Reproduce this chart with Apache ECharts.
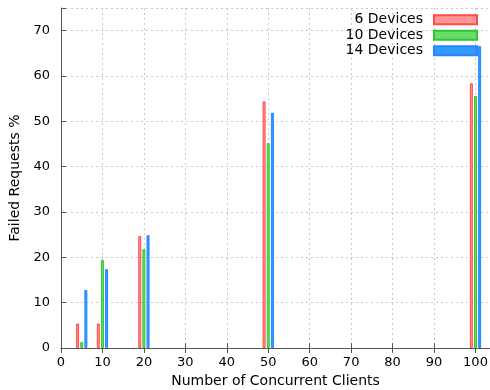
<!DOCTYPE html>
<html>
<head>
<meta charset="utf-8">
<script src="https://cdn.jsdelivr.net/npm/echarts@6/dist/echarts.min.js"></script>
<style>
    html, body { margin: 0; padding: 0; background: #fff; }
    #chart { width: 490px; height: 390px; }
</style>
</head>
<body>
<div id="chart"></div>
<script>
// 数据
var clients = [5, 10, 20, 50, 100];
var offsets = [-1, 0, 1];
var seriesNames = ['6 Devices', '10 Devices', '14 Devices'];
var dev6 = [5.4, 5.4, 24.7, 54.4, 58.4];
var dev10 = [1.3, 19.4, 21.8, 45.2, 55.6];
var dev14 = [12.8, 17.4, 24.9, 51.9, 66.6];
var fills = ['#ff9595', '#66dd66', '#3399ff'];
var borders = ['#ff4a4a', '#33c433', '#2288ff'];

var values = [dev6, dev10, dev14];
var font = 'DejaVu Sans';

var myChart = echarts.init(document.getElementById('chart'));

var series = values.map(function (vals, i) {
    return {
        name: seriesNames[i],
        type: 'bar',
        barWidth: 3,
        barGap: '-100%',
        data: clients.map(function (c, j) { return [c + offsets[i], vals[j]]; }),
        itemStyle: { color: fills[i], borderColor: borders[i], borderWidth: 1 }
    };
});

var gridLine = { show: true, lineStyle: { color: '#c8c8c8', type: [2, 3], width: 1 } };

myChart.setOption({
    animation: false,
    textStyle: { fontFamily: font },
    grid: { left: 61, right: 0, top: 8, bottom: 42, outerBoundsMode: 'none', containLabel: false },
    legend: {
        orient: 'vertical',
        align: 'right',
        right: 7,
        top: 7,
        itemWidth: 43,
        itemHeight: 9,
        itemGap: 0,
        icon: 'rect',
        textStyle: { fontFamily: font, fontSize: 14, color: '#000', lineHeight: 15.5, padding: [0, 6, 0, 0] },
        data: seriesNames
    },
    xAxis: [{
        type: 'value',
        min: 0,
        max: 103.5,
        interval: 10,
        name: 'Number of Concurrent Clients',
        nameLocation: 'middle',
        nameGap: 24,
        nameTextStyle: { fontFamily: font, fontSize: 14, color: '#000' },
        axisLine: { show: true, onZero: false, lineStyle: { color: '#777' } },
        axisTick: { show: true, inside: true, length: 5, lineStyle: { color: '#555' } },
        axisLabel: { fontFamily: font, fontSize: 13, color: '#000', margin: 8,
            formatter: function (v) { return v > 100 ? '' : v; } },
        splitLine: gridLine
    }, {
        type: 'value',
        position: 'top',
        min: 0,
        max: 103.5,
        interval: 10,
        axisLine: { show: true, lineStyle: { color: '#555' } },
        axisTick: { show: true, inside: true, length: 5, lineStyle: { color: '#555' } },
        axisLabel: { show: false },
        splitLine: { show: false }
    }],
    yAxis: {
        type: 'value',
        min: 0,
        max: 75,
        interval: 10,
        name: 'Failed Requests %',
        nameLocation: 'middle',
        nameGap: 29,
        nameTextStyle: { fontFamily: font, fontSize: 14, color: '#000' },
        axisLine: { show: true, lineStyle: { color: '#555' } },
        axisTick: { show: true, inside: true, length: 5, lineStyle: { color: '#555' } },
        axisLabel: { fontFamily: font, fontSize: 13, color: '#000', margin: 11,
            formatter: function (v) { return v > 70 ? '' : v; } },
        splitLine: gridLine
    },
    series: series
});
</script>
</body>
</html>
